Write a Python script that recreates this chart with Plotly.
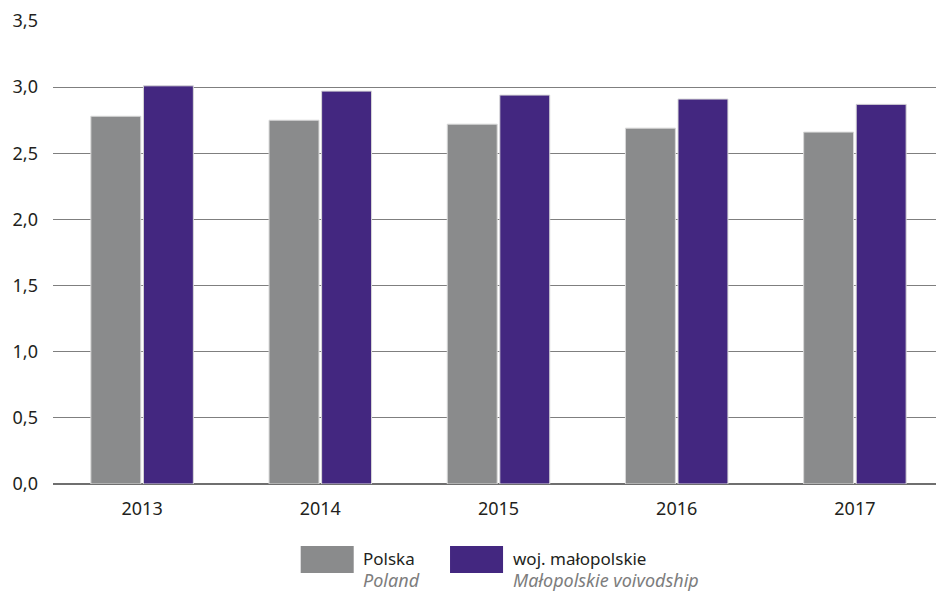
import plotly.graph_objects as go

years = ['2013', '2014', '2015', '2016', '2017']
polska = [2.78, 2.75, 2.72, 2.69, 2.66]
malopolskie = [3.01, 2.97, 2.94, 2.91, 2.87]

series_names = ['Polska', 'woj. małopolskie']
series_names_en = ['Poland', 'Małopolskie voivodship']
colors = ['#8a8b8c', '#432780']

FONT = 'Noto Sans'
TEXT_COLOR = '#231f20'

fig = go.Figure()

for name, values, color in zip(series_names, [polska, malopolskie], colors):
    fig.add_trace(go.Bar(
        name=name,
        x=years,
        y=values,
        marker=dict(color=color, line=dict(color='#d8d8d8', width=1)),
        showlegend=False,
    ))

# Custom legend: swatch + Polish name + English name in italics
legend_x = [0.278, 0.4456]
for i, (pl, en, color) in enumerate(zip(series_names, series_names_en, colors)):
    x0 = legend_x[i]
    fig.add_shape(
        type='rect', xref='paper', yref='paper',
        x0=x0, x1=x0 + 0.0595, y0=-0.192, y1=-0.134,
        fillcolor=color, line=dict(width=0),
    )
    fig.add_annotation(
        text=pl, xref='paper', yref='paper',
        x=x0 + 0.068, y=-0.160, xanchor='left', yanchor='middle',
        showarrow=False, font=dict(family=FONT, size=17, color=TEXT_COLOR),
    )
    fig.add_annotation(
        text=f'<i>{en}</i>', xref='paper', yref='paper',
        x=x0 + 0.068, y=-0.208, xanchor='left', yanchor='middle',
        showarrow=False, font=dict(family=FONT, size=18, color='#7d7d7d'),
    )

# page body has an 8px margin, so the figure is a bit smaller than the window
fig.update_layout(
    width=936,
    height=585,
    margin=dict(l=45, r=0, t=13, b=109),
    paper_bgcolor='white',
    plot_bgcolor='white',
    barmode='group',
    bargap=0.41,
    bargroupgap=0.05,
    font=dict(family=FONT, size=18, color=TEXT_COLOR),
    separators=', ',
    xaxis=dict(
        showgrid=False,
        showline=False,
        ticks='',
        ticklabelstandoff=12,
        tickfont=dict(size=18),
    ),
    yaxis=dict(
        range=[0, 3.5],
        dtick=0.5,
        tickformat='.1f',
        showgrid=True,
        gridcolor='#7f7f7f',
        gridwidth=1,
        zeroline=True,
        zerolinecolor='#6f6f6f',
        zerolinewidth=2,
        showline=False,
        ticks='',
        ticklabelstandoff=14,
        tickfont=dict(size=18),
    ),
)

fig.write_html('out.html')
